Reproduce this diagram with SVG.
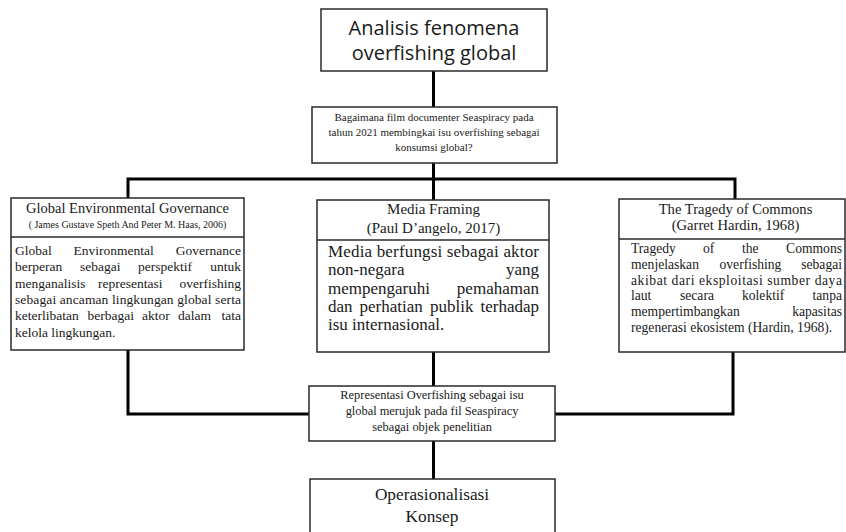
<svg xmlns="http://www.w3.org/2000/svg" width="846" height="532" viewBox="0 0 846 532">
<style>
.box{fill:#fff;stroke:#2a2a2a;stroke-width:1.5}
.con{fill:none;stroke:#000;stroke-width:3;stroke-linejoin:miter}
.serif{font-family:"Liberation Serif","Times New Roman",serif;fill:#1a1a1a}
.sans{font-family:"Open Sans","Liberation Sans",sans-serif;fill:#1a1a1a}
.c{text-anchor:middle}
.e{text-anchor:end}
.lb{font-size:13.5px}
.mb{font-size:17px}
.rb{font-size:13.6px}
</style>
<rect width="846" height="532" fill="#fff"/>
<g id="connectors">
<line class="con" x1="433.5" y1="71" x2="433.5" y2="107"/>
<line class="con" x1="433.5" y1="163" x2="433.5" y2="200"/>
<polyline class="con" points="128,198 128,179 735,179 735,199"/>
<polyline class="con" points="128,350 128,414 309,414"/>
<polyline class="con" points="733,352 733,414 555,414"/>
<line class="con" x1="433.5" y1="352" x2="433.5" y2="386"/>
<line class="con" x1="433.5" y1="441" x2="433.5" y2="479"/>
</g>
<g id="n-top">
<rect class="box" x="321" y="9" width="226" height="62"/>
<text class="sans c" x="434" y="35" font-size="20">Analisis fenomena</text>
<text class="sans c" x="434" y="60" font-size="20">overfishing global</text>
</g>
<g id="n-question">
<rect class="box" x="312" y="107" width="245" height="56"/>
<text class="serif c" x="434" y="121" font-size="11">Bagaimana film documenter Seaspiracy pada</text>
<text class="serif c" x="434" y="136" font-size="11">tahun 2021 membingkai isu overfishing sebagai</text>
<text class="serif c" x="434" y="151" font-size="11">konsumsi global?</text>
</g>
<g id="n-geg">
<rect class="box" x="11" y="198" width="233" height="152"/>
<line class="box" x1="11" y1="237" x2="244" y2="237"/>
<text class="serif c" x="127.5" y="213" font-size="14.5">Global Environmental Governance</text>
<text class="serif c" x="127.5" y="228" font-size="10">( James Gustave Speth And Peter M. Haas, 2006)</text>
<g class="serif lb">
<text x="15" y="255">Global</text><text x="73.5" y="255">Environmental</text><text class="e" x="241" y="255">Governance</text>
<text x="15" y="271.3">berperan</text><text x="80" y="271.3">sebagai</text><text x="138" y="271.3">perspektif</text><text class="e" x="241" y="271.3">untuk</text>
<text x="15" y="287.6">menganalisis</text><text x="98" y="287.6">representasi</text><text class="e" x="241" y="287.6">overfishing</text>
<text x="15" y="303.9" textLength="226" lengthAdjust="spacing">sebagai ancaman lingkungan global serta</text>
<text x="15" y="320.2">keterlibatan</text><text x="87.5" y="320.2">berbagai</text><text x="142" y="320.2">aktor</text><text x="178" y="320.2">dalam</text><text class="e" x="241" y="320.2">tata</text>
<text x="15" y="336.5">kelola lingkungan.</text>
</g>
</g>
<g id="n-media">
<rect class="box" x="317" y="200" width="232" height="152"/>
<line class="box" x1="317" y1="240" x2="549" y2="240"/>
<text class="serif c" x="433.5" y="214" font-size="15">Media Framing</text>
<text class="serif c" x="433.5" y="233" font-size="15">(Paul D’angelo, 2017)</text>
<g class="serif mb">
<text x="328" y="257" textLength="211" lengthAdjust="spacing">Media berfungsi sebagai aktor</text>
<text x="328" y="275.3">non-negara</text><text class="e" x="539" y="275.3">yang</text>
<text x="328" y="293.6">mempengaruhi</text><text class="e" x="539" y="293.6">pemahaman</text>
<text x="328" y="311.9">dan</text><text x="359.5" y="311.9">perhatian</text><text x="430" y="311.9">publik</text><text class="e" x="539" y="311.9">terhadap</text>
<text x="328" y="330.2">isu internasional.</text>
</g>
</g>
<g id="n-tragedy">
<rect class="box" x="619" y="199" width="226" height="153"/>
<line class="box" x1="619" y1="239" x2="845" y2="239"/>
<text class="serif c" x="735.5" y="214" font-size="14.6">The Tragedy of Commons</text>
<text class="serif c" x="735.5" y="230" font-size="14.6">(Garret Hardin, 1968)</text>
<g class="serif rb">
<text x="631" y="253">Tragedy</text><text x="703" y="253">of</text><text x="742" y="253">the</text><text class="e" x="842" y="253">Commons</text>
<text x="631" y="268.8">menjelaskan</text><text x="719.5" y="268.8">overfishing</text><text class="e" x="842" y="268.8">sebagai</text>
<text x="631" y="284.6" textLength="211" lengthAdjust="spacing">akibat dari eksploitasi sumber daya</text>
<text x="631" y="300.4">laut</text><text x="680" y="300.4">secara</text><text x="742" y="300.4">kolektif</text><text class="e" x="842" y="300.4">tanpa</text>
<text x="631" y="316.2">mempertimbangkan</text><text class="e" x="842" y="316.2">kapasitas</text>
<text x="631" y="332">regenerasi ekosistem (Hardin, 1968).</text>
</g>
</g>
<g id="n-representasi">
<rect class="box" x="309" y="386" width="246" height="55"/>
<text class="serif c" x="432" y="399" font-size="12.4">Representasi Overfishing sebagai isu</text>
<text class="serif c" x="432" y="415" font-size="12.4">global merujuk pada fil Seaspiracy</text>
<text class="serif c" x="432" y="431" font-size="12.4">sebagai objek penelitian</text>
</g>
<g id="n-operasional">
<rect class="box" x="310" y="479" width="245" height="60"/>
<text class="serif c" x="432" y="500" font-size="17.3">Operasionalisasi</text>
<text class="serif c" x="432" y="522" font-size="17.3">Konsep</text>
</g>
</svg>
